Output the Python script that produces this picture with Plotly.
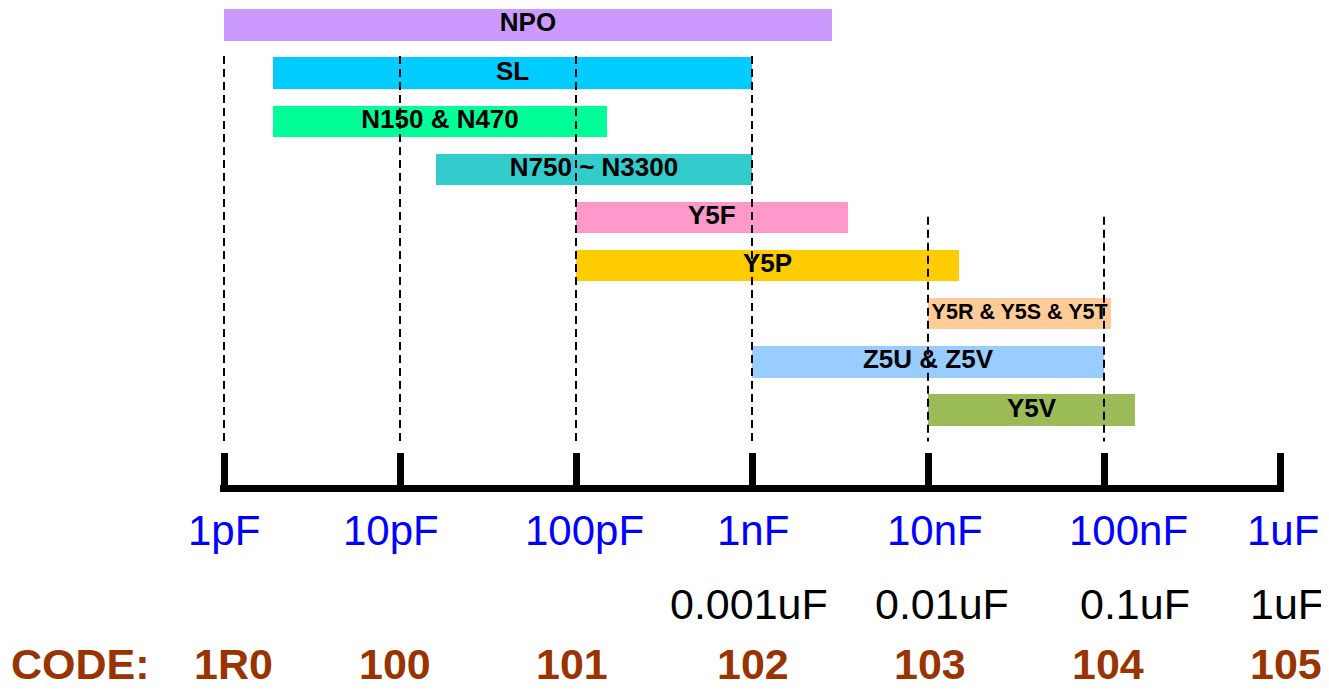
import math
import plotly.graph_objects as go

# ---- data (capacitance in pF) ----
dielectrics = ["NPO", "SL", "N150 & N470", "N750 ~ N3300", "Y5F", "Y5P",
               "Y5R & Y5S & Y5T", "Z5U & Z5V", "Y5V"]
range_start_pf = [1, 1.9, 1.9, 16, 100, 100, 10000, 1000, 10000]
range_end_pf = [2850, 1000, 150, 1000, 3500, 15000, 110000, 100000, 150000]
bar_colors = ["#CC99FF", "#00CCFF", "#00FF99", "#33CCCC", "#FF99CC", "#FFCC00",
              "#FFCC99", "#99CCFF", "#9BBB59"]

decade_values_pf = [1, 10, 100, 1000, 10000, 100000, 1000000]
decade_labels = ["1pF", "10pF", "100pF", "1nF", "10nF", "100nF", "1uF"]
uf_labels = ["", "", "", "0.001uF", "0.01uF", "0.1uF", "1uF"]
code_labels = ["1R0", "100", "101", "102", "103", "104", "105"]
code_title = "CODE:"

# guide lines: decades with long guides and decades with shorter guides
guides_long_pf = [1, 10, 100, 1000]
guides_short_pf = [10000, 100000]

FONT = "Arial, Liberation Sans, sans-serif"
n = len(dielectrics)
ypos = list(range(n))

# ---- geometry (page body adds an 8px offset) ----
W, H = 1321, 682
ROW0, ROWH = 17, 48.19        # pixel centre of first row, row spacing
PLOT_BOTTOM = 477.5
B = H - PLOT_BOTTOM
PAD = 4 / 176                 # small range padding so end ticks are drawn

fig = go.Figure()


def guide_trace(xs, ytop, ybot):
    gx, gy = [], []
    for v in xs:
        gx += [v, v, None]
        gy += [ytop, ybot, None]
    return go.Scatter(x=gx, y=gy, mode="lines", hoverinfo="skip",
                      line=dict(color="black", width=2, dash="8px,5px"),
                      showlegend=False)


fig.add_trace(guide_trace(guides_long_pf, 0.643, 8.653))
fig.add_trace(guide_trace(guides_short_pf, 3.984, 8.653))

# bars
fig.add_trace(go.Bar(
    orientation="h",
    y=ypos,
    x=[e - s for s, e in zip(range_start_pf, range_end_pf)],
    base=range_start_pf,
    marker=dict(color=bar_colors, line=dict(width=0)),
    width=0.65,
    showlegend=False,
    hoverinfo="skip",
))

# bar labels centred (geometric mean on the log axis)
centers = [(s * e) ** 0.5 for s, e in zip(range_start_pf, range_end_pf)]
sizes = [26 if lab != "Y5R & Y5S & Y5T" else 21.5 for lab in dielectrics]
fig.add_trace(go.Scatter(
    x=centers, y=ypos, mode="text", text=dielectrics,
    textposition="middle center",
    textfont=dict(family=FONT, size=sizes, color="black", weight="bold"),
    showlegend=False, hoverinfo="skip", cliponaxis=False,
))

plot_h = PLOT_BOTTOM


def py(ref_px):
    return (PLOT_BOTTOM - (ref_px - 8)) / plot_h


annotations = []
blue_shift = [0, -9, 8, 1, 7, 24, 3]
uf_shift = [0, 0, 0, -3, 14, 31, 7]
code_shift = [9, -5, -4, 1, 2, 4, 6]
for i, v in enumerate(decade_values_pf):
    lx = math.log10(v)
    annotations.append(dict(x=lx, xref="x", y=py(531), yref="paper", text=decade_labels[i],
                            showarrow=False, xshift=blue_shift[i], xanchor="center",
                            yanchor="middle",
                            font=dict(family=FONT, size=42, color="#0000FF")))
    if uf_labels[i]:
        annotations.append(dict(x=lx, xref="x", y=py(605), yref="paper", text=uf_labels[i],
                                showarrow=False, xshift=uf_shift[i], xanchor="center",
                                yanchor="middle",
                                font=dict(family=FONT, size=43, color="black")))
    annotations.append(dict(x=lx, xref="x", y=py(665), yref="paper", text=code_labels[i],
                            showarrow=False, xshift=code_shift[i], xanchor="center",
                            yanchor="middle",
                            font=dict(family=FONT, size=43, color="#993300", weight="bold")))
annotations.append(dict(x=0, xref="x", y=py(665), yref="paper", text=code_title,
                        showarrow=False, xshift=-144, xanchor="center", yanchor="middle",
                        font=dict(family=FONT, size=43, color="#993300", weight="bold")))

L = 216 - 4
plot_w = 176 * (6 + 2 * PAD)
R = W - L - plot_w

fig.update_layout(
    width=W, height=H,
    margin=dict(l=L, r=R, t=0, b=B, pad=0),
    plot_bgcolor="white", paper_bgcolor="white",
    bargap=0,
    annotations=annotations,
    xaxis=dict(type="log", range=[-PAD, 6 + PAD], tickvals=decade_values_pf,
               showticklabels=False, showgrid=False, zeroline=False,
               showline=True, linecolor="black", linewidth=7,
               ticks="inside", ticklen=32, tickwidth=7, tickcolor="black"),
    yaxis=dict(range=[(PLOT_BOTTOM - ROW0) / ROWH, -ROW0 / ROWH], showgrid=False,
               zeroline=False, showticklabels=False, showline=False),
)

fig.write_html("out.html")
